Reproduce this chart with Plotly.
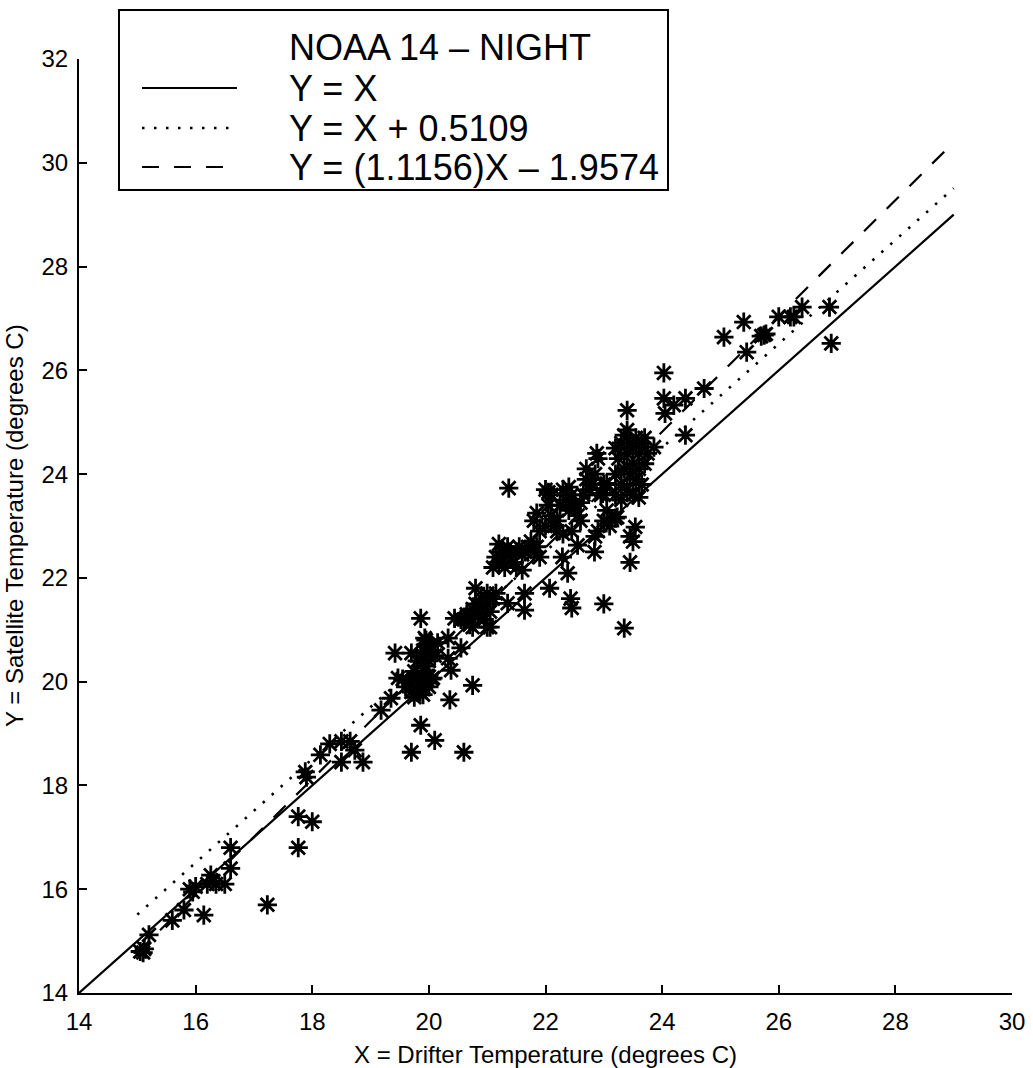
import plotly.graph_objects as go

# ---- data ----
drifter_x = [
    15.05, 15.1, 15.12, 15.2, 15.6, 15.8, 15.9, 15.95, 16.0, 16.14, 16.2, 16.26, 16.3, 16.35, 16.5, 16.6, 16.6,
    17.23, 17.76, 18.0, 17.76, 17.88, 17.9, 18.14, 18.3, 18.5, 18.65, 18.5, 18.73, 18.87, 19.18, 19.35, 19.42, 19.47,
    19.6, 19.7, 19.7, 19.75, 19.8, 19.8, 19.8, 19.85, 19.85, 19.9, 19.9, 19.9, 19.95, 19.95, 20.0, 20.0, 19.7, 19.65,
    19.75, 19.9, 20.05, 19.55,
    19.9, 19.95, 20.0, 20.05, 20.1, 20.15, 20.0,
    19.86, 20.1, 19.7, 20.6, 20.75, 20.36, 20.38, 20.07, 20.33, 20.33, 20.44, 20.55, 19.86, 19.93, 20.03,
    20.6, 20.65, 20.7, 20.75, 20.8, 20.85, 20.9, 20.9, 20.95, 21.0, 21.0, 21.05, 21.1, 21.15, 20.8, 20.75, 21.05,
    20.55, 20.7,
    21.1, 21.15, 21.2, 21.25, 21.3, 21.35, 21.4, 21.45, 21.5, 21.55, 21.6, 21.65, 21.7, 21.75, 21.8, 21.85, 21.2,
    21.3, 21.6, 21.5, 21.9,
    21.35, 21.64, 21.64, 21.0, 22.07, 22.43, 22.45, 23.0, 23.35, 21.37, 22.29, 22.38, 22.84, 22.55, 23.45, 23.54,
    23.45, 23.5, 23.23,
    21.8, 21.85, 21.9, 22.0, 22.05, 22.1, 22.15, 22.2, 22.25, 22.3, 22.35, 22.4, 22.45, 22.5, 22.55, 22.6, 22.65,
    22.7, 22.7, 22.75, 22.8, 22.85, 22.9, 22.95, 23.0, 23.05, 23.0, 23.1, 22.9, 22.85, 22.4, 22.3, 22.1, 22.05,
    22.0, 22.6, 22.45, 22.2, 23.2, 22.98, 23.05, 22.88,
    23.2, 23.2, 23.25, 23.3, 23.3, 23.35, 23.35, 23.4, 23.4, 23.45, 23.45, 23.5, 23.5, 23.5, 23.55, 23.55, 23.6,
    23.6, 23.65, 23.65, 23.7, 23.7, 23.4, 23.3, 23.6, 23.2, 23.75,
    23.4, 23.86, 24.03, 24.03, 24.05, 24.2, 24.4, 24.4, 24.72, 25.06, 25.4, 25.45, 25.7, 25.75, 25.78, 26.0, 26.2,
    26.26, 26.4, 26.87, 26.9,
]

satellite_y = [
    14.8, 14.78, 14.85, 15.12, 15.4, 15.6, 16.0, 15.95, 16.05, 15.5, 16.1, 16.27, 16.15, 16.1, 16.1, 16.4, 16.8,
    15.7, 17.4, 17.3, 16.8, 18.26, 18.16, 18.59, 18.8, 18.85, 18.85, 18.45, 18.68, 18.45, 19.45, 19.68, 20.55, 20.07,
    19.9, 19.8, 20.0, 20.2, 19.9, 20.1, 20.4, 19.8, 20.0, 19.9, 20.2, 20.5, 20.0, 20.3, 19.9, 20.1, 20.55, 20.0,
    19.7, 19.75, 20.05, 20.05,
    20.6, 20.8, 20.7, 20.6, 20.5, 20.75, 20.4,
    19.16, 18.87, 18.64, 18.64, 19.93, 19.65, 20.22, 20.07, 20.45, 20.84, 21.22, 20.65, 21.22, 20.84, 20.7,
    21.2, 21.3, 21.25, 21.4, 21.5, 21.3, 21.6, 21.4, 21.2, 21.5, 21.7, 21.35, 21.6, 21.7, 21.8, 21.05, 21.05,
    21.2, 21.1,
    22.2, 22.4, 22.3, 22.5, 22.4, 22.6, 22.5, 22.3, 22.5, 22.6, 22.45, 22.5, 22.6, 22.7, 22.5, 22.6, 22.65,
    22.2, 22.15, 22.2, 22.4,
    21.51, 21.38, 21.7, 21.05, 21.8, 21.6, 21.42, 21.5, 21.03, 23.73, 22.4, 22.09, 22.5, 22.63, 22.3, 22.98,
    22.8, 22.7, 23.17,
    23.1, 23.25, 22.9, 23.0, 23.4, 23.2, 23.0, 23.1, 23.4, 22.85, 23.5, 23.3, 23.6, 23.4, 23.2, 23.45, 23.6,
    23.9, 24.1, 23.7, 23.8, 24.0, 24.3, 23.6, 23.8, 23.3, 23.1, 23.0, 22.9, 22.8, 23.75, 23.7, 23.6, 23.65,
    23.7, 23.1, 22.9, 22.9, 23.15, 23.63, 23.82, 24.4,
    23.6, 24.0, 24.3, 23.8, 24.6, 24.1, 24.75, 23.7, 24.4, 24.0, 24.6, 23.6, 24.2, 24.5, 23.9, 24.7, 24.1,
    24.4, 23.8, 24.6, 24.2, 24.7, 24.85, 23.5, 23.55, 24.5, 24.4,
    25.23, 24.52, 25.95, 25.46, 25.17, 25.33, 25.46, 24.75, 25.65, 26.64, 26.93, 26.35, 26.66, 26.68, 26.7, 27.03,
    27.03, 27.03, 27.22, 27.22, 26.52,
]

# reference / fitted lines
line_x_identity = [14, 29]
line_x_fits = [15, 29]
offset_bias = 0.5109
fit_slope = 1.1156
fit_intercept = -1.9574

legend_title = "NOAA 14 \u2013 NIGHT"
legend_names = ["Y = X", "Y = X + 0.5109", "Y = (1.1156)X \u2013 1.9574"]
x_title = "X = Drifter Temperature (degrees C)"
y_title = "Y = Satellite Temperature (degrees C)"

x_ticks = list(range(14, 31, 2))
y_ticks = list(range(14, 33, 2))

FONT = "Liberation Sans, Arial, Helvetica, sans-serif"
W, H = 1033, 1068
ML, MR, MT, MB = 79, 21, 59, 75
PW, PH = W - ML - MR, H - MT - MB


def px_x(p):  # pixel -> paper x
    return (p - ML) / PW


def px_y(p):  # pixel -> paper y
    return (H - MB - p) / PH


styles = [
    dict(color="black", width=2.2),
    dict(color="black", width=2.6, dash="2.5px,9.5px"),
    dict(color="black", width=2.2, dash="17px,15px"),
]

fig = go.Figure()

fig.add_trace(go.Scatter(
    x=drifter_x, y=satellite_y, mode="markers", showlegend=False,
    marker=dict(symbol="asterisk-open", size=16, color="black",
                line=dict(color="black", width=2.8)),
))

fig.add_trace(go.Scatter(x=line_x_identity, y=line_x_identity, mode="lines",
                         name=legend_names[0], line=styles[0], showlegend=False))
fig.add_trace(go.Scatter(x=line_x_fits, y=[v + offset_bias for v in line_x_fits], mode="lines",
                         name=legend_names[1], line=styles[1], showlegend=False))
fig.add_trace(go.Scatter(x=line_x_fits, y=[fit_slope * v + fit_intercept for v in line_x_fits], mode="lines",
                         name=legend_names[2], line=styles[2], showlegend=False))

# ---- legend box drawn as layout decoration ----
shapes = [dict(type="rect", xref="paper", yref="paper",
               x0=px_x(119), x1=px_x(668), y0=px_y(190), y1=px_y(10),
               line=dict(color="black", width=2), fillcolor="white", layer="above")]
annotations = [dict(xref="paper", yref="paper", x=px_x(287), y=px_y(48), xanchor="left", yanchor="middle",
                    text=legend_title, showarrow=False, font=dict(family=FONT, size=36, color="black"))]
row_y = [88, 128, 167]
for name, st, ry in zip(legend_names, styles, row_y):
    shapes.append(dict(type="line", xref="paper", yref="paper",
                       x0=px_x(142), x1=px_x(237), y0=px_y(ry), y1=px_y(ry),
                       line=st, layer="above"))
    annotations.append(dict(xref="paper", yref="paper", x=px_x(287), y=px_y(ry), xanchor="left",
                            yanchor="middle", text=name, showarrow=False,
                            font=dict(family=FONT, size=36, color="black")))

# y-axis title placed as a rotated annotation (sits further left than the axis title allows)
annotations.append(dict(xref="paper", yref="paper", x=px_x(14), y=0.5, xanchor="center", yanchor="middle",
                        text=y_title, textangle=-90, showarrow=False,
                        font=dict(family=FONT, size=24, color="black")))

axis_common = dict(
    showline=True, linecolor="black", linewidth=2, mirror=False,
    ticks="inside", ticklen=8, tickwidth=2, tickcolor="black",
    showgrid=False, zeroline=False,
    tickfont=dict(family=FONT, size=24, color="black"),
)

fig.update_layout(
    width=W, height=H, autosize=False,
    margin=dict(l=ML, r=MR, t=MT, b=MB, autoexpand=False),
    paper_bgcolor="white", plot_bgcolor="white",
    font=dict(family=FONT, color="black"),
    showlegend=False,
    shapes=shapes, annotations=annotations,
    xaxis=dict(range=[14, 30], tickvals=x_ticks, ticklabelstandoff=6, automargin=False,
               title=dict(text=x_title, font=dict(family=FONT, size=24), standoff=19),
               **axis_common),
    yaxis=dict(range=[14, 32], tickvals=y_ticks, ticklabelstandoff=4, automargin=False,
               **axis_common),
)

fig.write_html("out.html",
               config={"displayModeBar": False},
               post_script="document.body.style.margin='0px';"
                           "document.documentElement.style.overflow='hidden';")
